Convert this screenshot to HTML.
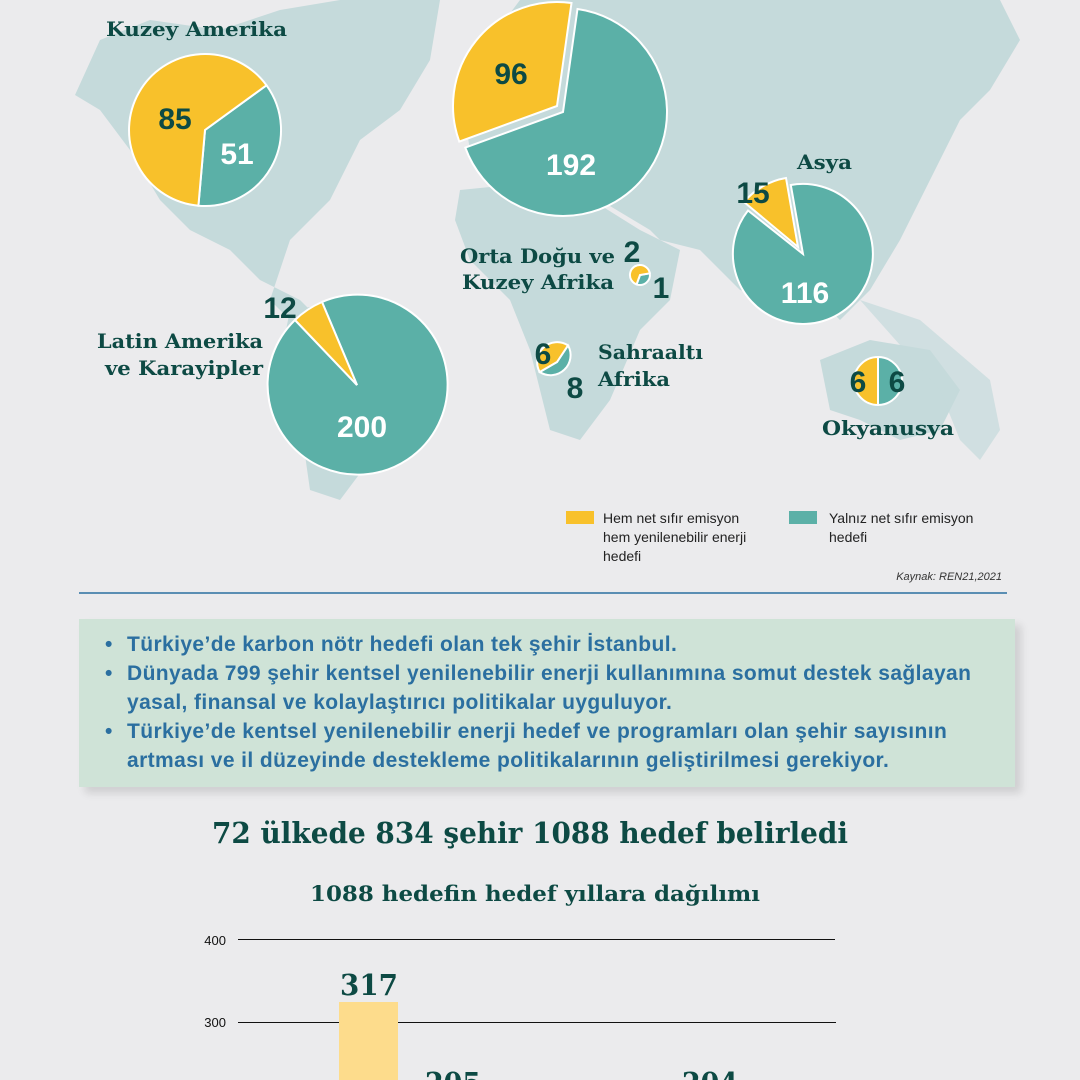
<!DOCTYPE html>
<html><head><meta charset="utf-8">
<style>
html,body{margin:0;padding:0;background:#ebebed;}
body{width:1080px;height:1080px;position:relative;overflow:hidden;font-family:"Liberation Sans",sans-serif;}
.s{font-family:"DejaVu Serif","Liberation Serif",serif;font-weight:bold;fill:#0d4a44;}
.n{font-family:"Liberation Sans",sans-serif;font-weight:bold;fill:#0d4a44;}
.box{position:absolute;left:79px;top:619px;width:936px;height:168px;background:#cfe3d7;box-shadow:6px 6px 8px rgba(0,0,0,0.12);}
.box div{position:absolute;left:48px;color:#2b6fa0;font-weight:bold;font-size:21px;letter-spacing:0.4px;white-space:nowrap;line-height:24px;}
.box b.d{position:absolute;left:-22px;}
</style></head><body>
<svg width="1080" height="1080" style="position:absolute;left:0;top:0">
<g fill="#c5dadb">
<path d="M75,95 L100,40 L150,20 L220,30 L280,10 L340,0 L440,0 L430,60 L400,110 L360,140 L330,200 L290,240 L270,300 L300,330 L330,330 L300,300 L260,280 L230,250 L190,230 L160,200 L130,150 L100,110 Z"/>
<path d="M520,0 L700,0 L1000,0 L1020,40 L990,90 L960,120 L930,180 L900,240 L870,290 L840,320 L820,300 L780,300 L740,290 L700,250 L660,240 L650,230 L600,200 L560,200 L520,170 L470,150 L460,90 L490,40 Z"/>
<path d="M460,190 L560,180 L640,230 L680,250 L670,300 L640,330 L610,400 L580,440 L550,430 L530,350 L510,300 L470,260 L455,220 Z"/>
<path d="M290,310 L360,300 L420,330 L440,380 L410,420 L370,460 L340,500 L310,490 L300,420 L280,360 Z"/>
<path d="M820,360 L870,340 L930,350 L960,390 L940,430 L900,440 L860,420 L830,410 Z"/>
<path d="M860,300 L920,320 L990,380 L1000,430 L980,460 L960,440 L940,390 Z" opacity="0.7"/>
</g>
<g stroke="#fff" stroke-width="2">
<path fill="#5bb0a7" d="M205,130 L266.5,85.3 A76,76 0 0 1 198.4,205.7 Z"/>
<path fill="#f8c12b" d="M205,130 L198.4,205.7 A76,76 0 1 1 266.5,85.3 Z"/>
<path fill="#5bb0a7" d="M563,112 L577.5,9 A104,104 0 1 1 465.3,147.6 Z"/>
<path fill="#f8c12b" d="M557,106 L459.3,141.6 A104,104 0 0 1 571.5,3 Z"/>
<path fill="#5bb0a7" d="M803,254 L790.8,185 A70,70 0 1 1 748,210.5 Z"/>
<path fill="#f8c12b" d="M798,247 L744,202 A70,70 0 0 1 786,178 Z"/>
<path fill="#5bb0a7" d="M357,385 L322,302 A90,90 0 1 1 295,320 Z"/>
<path fill="#f8c12b" d="M357,385 L295,320 A90,90 0 0 1 322,302 Z"/>
<path fill="#5bb0a7" d="M557,362 L568,345.4 A20,20 0 0 1 539.7,372 Z"/>
<path fill="#f8c12b" d="M557,362 L539.7,372 A20,20 0 0 1 568,345.4 Z"/>
<path fill="#5bb0a7" d="M640,275 L649.8,273.3 A10,10 0 0 1 636.6,284.4 Z"/>
<path fill="#f8c12b" d="M640,275 L636.6,284.4 A10,10 0 1 1 649.8,273.3 Z"/>
<path fill="#f8c12b" d="M878,357 A24,24 0 0 0 878,405 Z"/>
<path fill="#5bb0a7" d="M878,357 A24,24 0 0 1 878,405 Z"/>
</g>
<g class="s" font-size="20">
<text x="106" y="36" textLength="181" lengthAdjust="spacingAndGlyphs">Kuzey Amerika</text>
<text x="797" y="169" textLength="55" lengthAdjust="spacingAndGlyphs">Asya</text>
<text x="460" y="263" textLength="155" lengthAdjust="spacingAndGlyphs">Orta Doğu ve</text>
<text x="462" y="289" textLength="152" lengthAdjust="spacingAndGlyphs">Kuzey Afrika</text>
<text x="97" y="348" textLength="166" lengthAdjust="spacingAndGlyphs">Latin Amerika</text>
<text x="105" y="375" textLength="158" lengthAdjust="spacingAndGlyphs">ve Karayipler</text>
<text x="598" y="359" textLength="105" lengthAdjust="spacingAndGlyphs">Sahraaltı</text>
<text x="598" y="386" textLength="72" lengthAdjust="spacingAndGlyphs">Afrika</text>
<text x="822" y="435" textLength="132" lengthAdjust="spacingAndGlyphs">Okyanusya</text>
</g>
<g class="n" font-size="30" text-anchor="middle">
<text x="175" y="129">85</text>
<text x="237" y="164" fill="#fff">51</text>
<text x="511" y="84">96</text>
<text x="571" y="175" fill="#fff">192</text>
<text x="753" y="203">15</text>
<text x="805" y="303" fill="#fff">116</text>
<text x="632" y="262">2</text>
<text x="661" y="298">1</text>
<text x="280" y="318">12</text>
<text x="362" y="437" fill="#fff">200</text>
<text x="543" y="364">6</text>
<text x="575" y="398">8</text>
<text x="858" y="392">6</text>
<text x="897" y="392">6</text>
</g>
<rect x="566" y="511" width="28" height="13" fill="#f8c12b"/>
<rect x="789" y="511" width="28" height="13" fill="#5bb0a7"/>
<g font-size="14" fill="#222">
<text x="603" y="523">Hem net sıfır emisyon</text>
<text x="603" y="542">hem yenilenebilir enerji</text>
<text x="603" y="561">hedefi</text>
<text x="829" y="523">Yalnız net sıfır emisyon</text>
<text x="829" y="542">hedefi</text>
</g>
<text x="1002" y="580" font-size="11" font-style="italic" fill="#333" text-anchor="end">Kaynak: REN21,2021</text>
<line x1="79" y1="593" x2="1007" y2="593" stroke="#2b6fa0" stroke-width="1.5"/>
<text class="s" x="212" y="843" font-size="29" textLength="636" lengthAdjust="spacingAndGlyphs">72 ülkede 834 şehir 1088 hedef belirledi</text>
<text class="s" x="310" y="901" font-size="21" textLength="450" lengthAdjust="spacingAndGlyphs">1088 hedefin hedef yıllara dağılımı</text>
<line x1="238" y1="939.5" x2="835" y2="939.5" stroke="#111" stroke-width="1"/>
<line x1="238" y1="1022.5" x2="836" y2="1022.5" stroke="#111" stroke-width="1"/>
<text x="226" y="945" font-size="13" fill="#111" text-anchor="end">400</text>
<text x="226" y="1027" font-size="13" fill="#111" text-anchor="end">300</text>
<rect x="339" y="1002" width="59" height="80" fill="#fddc8c"/>
<g class="s" font-size="29">
<text x="340" y="995" textLength="58" lengthAdjust="spacingAndGlyphs">317</text>
<text x="425" y="1093" textLength="56" lengthAdjust="spacingAndGlyphs">205</text>
<text x="682" y="1093" textLength="56" lengthAdjust="spacingAndGlyphs">204</text>
</g>
</svg>
<div class="box">
<div style="top:14px"><b class="d">•</b>Türkiye’de karbon nötr hedefi olan tek şehir İstanbul.</div>
<div style="top:43px"><b class="d">•</b>Dünyada 799 şehir kentsel yenilenebilir enerji kullanımına somut destek sağlayan</div>
<div style="top:72px">yasal, finansal ve kolaylaştırıcı politikalar uyguluyor.</div>
<div style="top:101px"><b class="d">•</b>Türkiye’de kentsel yenilenebilir enerji hedef ve programları olan şehir sayısının</div>
<div style="top:130px">artması ve il düzeyinde destekleme politikalarının geliştirilmesi gerekiyor.</div>
</div>
</body></html>
